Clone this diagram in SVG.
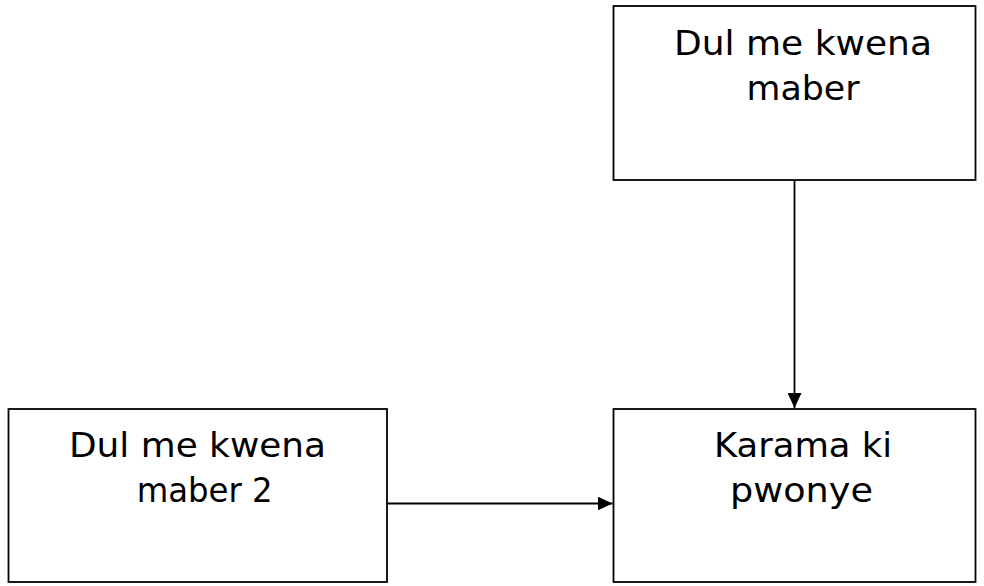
<svg xmlns="http://www.w3.org/2000/svg" width="984" height="586" viewBox="0 0 984 586">
<defs>
<style>
.box{fill:#fff;stroke:#000;stroke-width:1.8}
.lbl{font-family:"DejaVu Sans","Liberation Sans",sans-serif;font-size:34px;fill:#000;text-anchor:middle}
.edge{stroke:#000;stroke-width:1.8;fill:none}
</style>
<marker id="arr" viewBox="0 0 15 14" refX="15" refY="7" markerWidth="15" markerHeight="14" markerUnits="userSpaceOnUse" orient="auto">
<path d="M0,0 L15,7 L0,14 Z" fill="#000"/>
</marker>
</defs>
<rect width="984" height="586" fill="#fff"/>
<g id="node-top">
<rect class="box" x="613.5" y="6" width="362" height="174"/>
<text class="lbl" x="803" y="55" textLength="258" lengthAdjust="spacingAndGlyphs">Dul me kwena</text>
<text class="lbl" x="803" y="100" textLength="113" lengthAdjust="spacingAndGlyphs">maber</text>
</g>
<g id="node-left">
<rect class="box" x="8.5" y="409" width="378.5" height="173"/>
<text class="lbl" x="197.5" y="457" textLength="257" lengthAdjust="spacingAndGlyphs">Dul me kwena</text>
<text class="lbl" x="204.7" y="502" textLength="136" lengthAdjust="spacingAndGlyphs">maber 2</text>
</g>
<g id="node-result">
<rect class="box" x="613.5" y="409" width="362" height="173"/>
<text class="lbl" x="803" y="457" textLength="178" lengthAdjust="spacingAndGlyphs">Karama ki</text>
<text class="lbl" x="801.5" y="502" textLength="143" lengthAdjust="spacingAndGlyphs">pwonye</text>
</g>
<g id="connectors">
<line class="edge" x1="794.5" y1="180" x2="794.5" y2="408" marker-end="url(#arr)"/>
<line class="edge" x1="387" y1="503.5" x2="612.5" y2="503.5" marker-end="url(#arr)"/>
</g>
</svg>
